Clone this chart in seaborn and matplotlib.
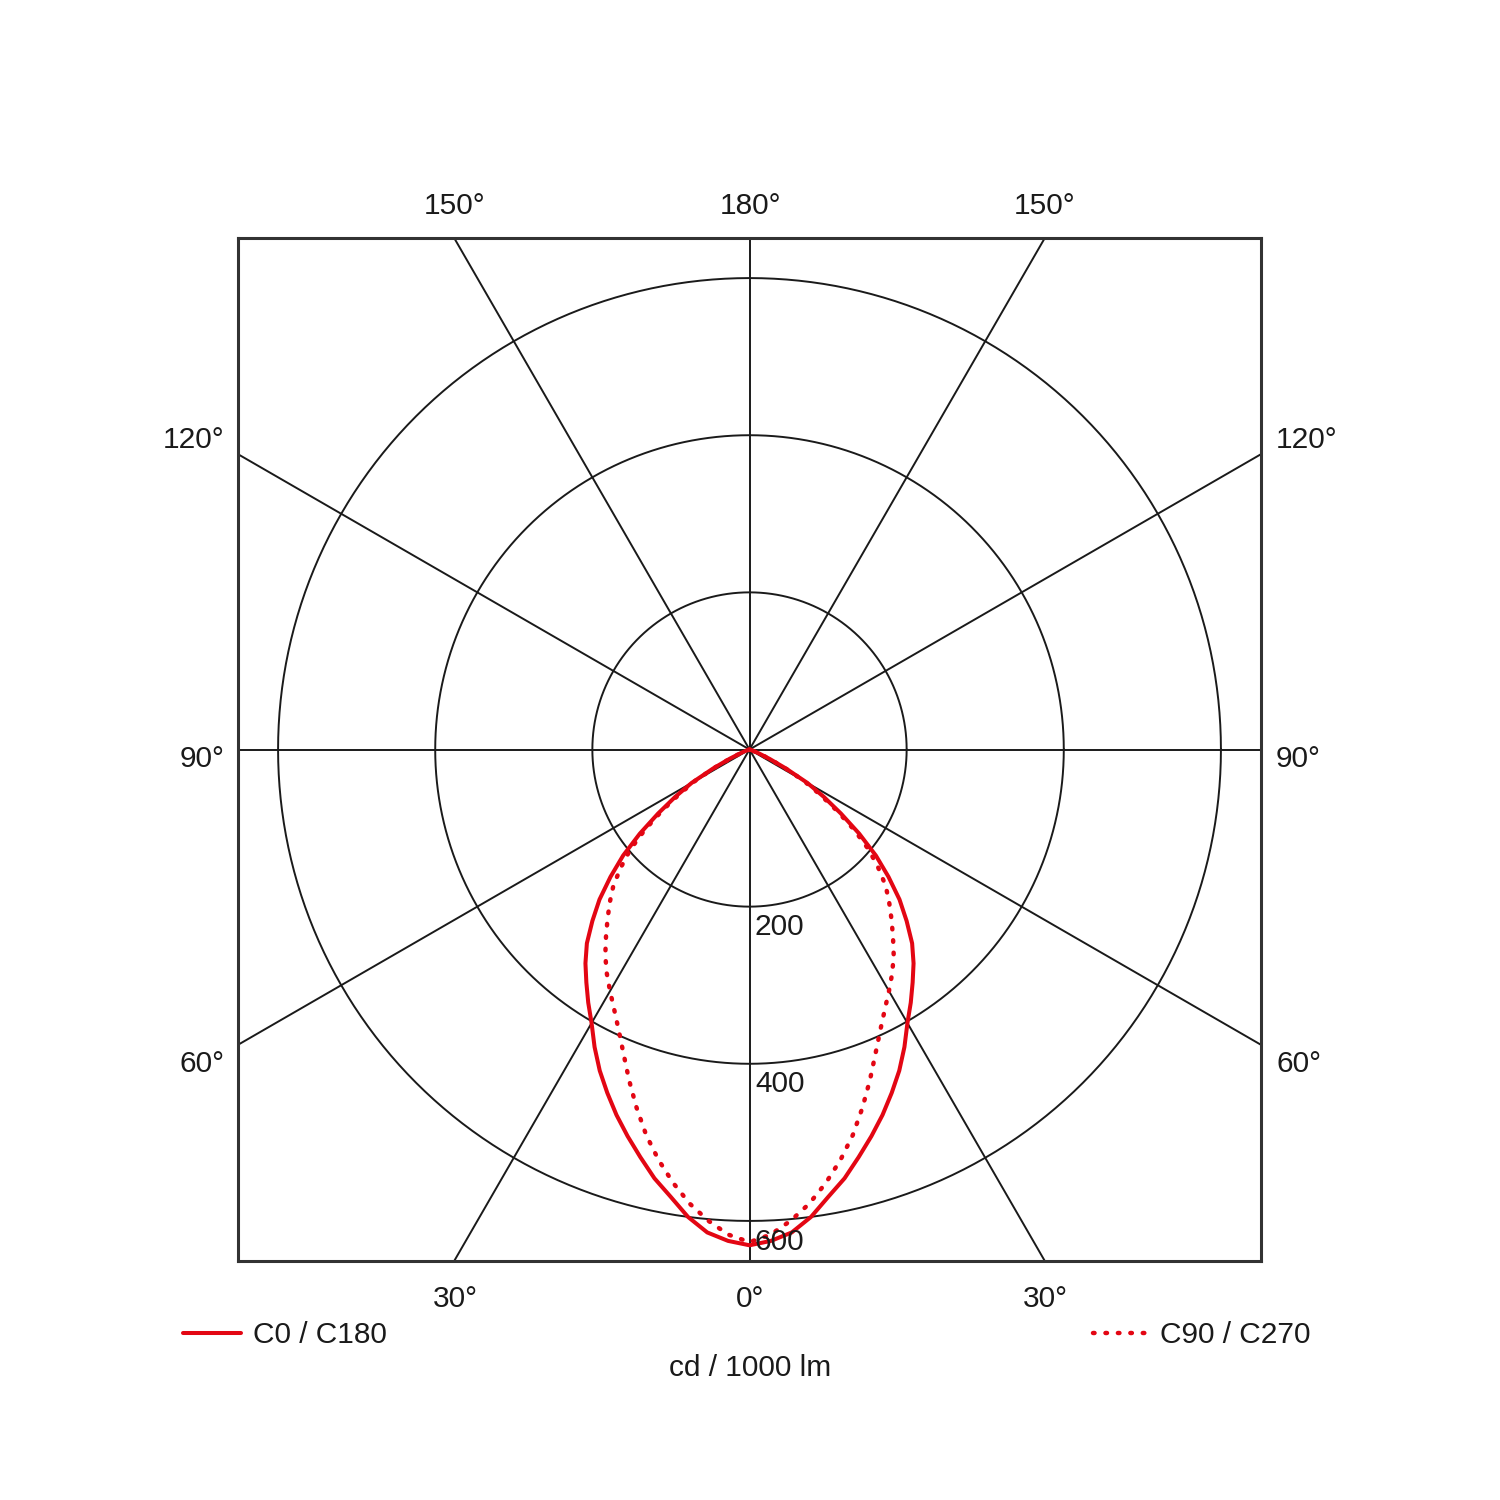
import numpy as np
import pandas as pd
import matplotlib.pyplot as plt
from matplotlib.lines import Line2D
import seaborn as sns

gamma = [0, 2.5, 5, 7.5, 10, 12.5, 15, 17.5, 20, 22.5, 25, 27.5, 30, 32.5, 35, 37.5,
         40, 42.5, 45, 47.5, 50, 52.5, 55, 57.5, 60, 62.5, 65, 67.5, 70, 72.5, 75,
         77.5, 80, 82.5, 85, 87.5, 90]
c0_c180 = [631, 626, 617, 600, 578, 559, 537, 516, 495, 473, 451, 427, 402, 382, 362, 343,
           322, 296, 270, 240, 210, 176, 142, 112, 85, 52, 28, 13, 6, 2, 1,
           0, 0, 0, 0, 0, 0]
c90_c270 = [627, 618, 602, 583, 560, 535, 508, 478, 448, 419, 394, 373, 355, 338, 320, 300,
            281, 263, 245, 222, 198, 168, 136, 106, 80, 50, 26, 11, 4, 1, 0,
            0, 0, 0, 0, 0, 0]

rings = [200, 400, 600]
spokes = [0, 30, 60, 90, 120, 150]
top_labels = ['150°', '180°', '150°']
side_labels = ['120°', '90°', '60°']
bottom_labels = ['30°', '0°', '30°']
legend_labels = ['C0 / C180', 'C90 / C270']
unit_label = 'cd / 1000 lm'

RED = '#e30613'
INK = '#1a1a1a'
LIM = 651
DOTS = (0, (0.35, 2.45))

sns.set_style('white')
plt.rcParams['font.family'] = ['Liberation Sans', 'DejaVu Sans']


def curva(valores):
    g = np.array(gamma, dtype=float)
    v = np.array(valores, dtype=float)
    ang = np.concatenate([-g[::-1], g[1:]])
    val = np.concatenate([v[::-1], v[1:]])
    t = np.radians(ang)
    return pd.DataFrame({'x': val * np.sin(t), 'y': -val * np.cos(t)})


fig = plt.figure(figsize=(15, 15), dpi=100)
ax = fig.add_axes([238 / 1500, 239 / 1500, 1023 / 1500, 1023 / 1500])

# rejilla polar
t = np.linspace(0, 2 * np.pi, 721)
for r in rings:
    ax.plot(r * np.cos(t), r * np.sin(t), color=INK, lw=1.4, zorder=1)
for a in spokes:
    s = np.radians(a)
    ax.plot([-1000 * np.sin(s), 1000 * np.sin(s)], [1000 * np.cos(s), -1000 * np.cos(s)],
            color=INK, lw=1.4, zorder=1)

# curvas
sns.lineplot(data=curva(c0_c180), x='x', y='y', sort=False, estimator=None,
             color=RED, lw=2.9, ax=ax, zorder=3)
sns.lineplot(data=curva(c90_c270), x='x', y='y', sort=False, estimator=None,
             color=RED, lw=3.2, ax=ax, zorder=3, linestyle=DOTS,
             dash_capstyle='round')

ax.set_xlim(-LIM, LIM)
ax.set_ylim(-LIM, LIM)
ax.set_aspect('equal')
ax.set_xticks([])
ax.set_yticks([])
ax.set_xlabel('')
ax.set_ylabel('')
for sp in ax.spines.values():
    sp.set_visible(True)
    sp.set_color('#333333')
    sp.set_linewidth(2.2)

# etiquetas de radio
fs = 21.5
for r, yb in zip(rings, [935, 1092, 1250]):
    fig.text(755 / 1500, 1 - yb / 1500, str(r), fontsize=fs, color=INK,
             ha='left', va='baseline', zorder=5)

# etiquetas de ángulo
for lab, xp in zip(top_labels, [455, 750, 1045]):
    fig.text(xp / 1500, 1 - 214 / 1500, lab, fontsize=fs, color=INK, ha='center', va='baseline')
for lab, xp in zip(bottom_labels, [455, 750, 1045]):
    fig.text(xp / 1500, 1 - 1307 / 1500, lab, fontsize=fs, color=INK, ha='center', va='baseline')
for lab, yb in zip(side_labels, [448, 767, 1072]):
    fig.text(224 / 1500, 1 - yb / 1500, lab, fontsize=fs, color=INK, ha='right', va='baseline')
    fig.text(1276 / 1500, 1 - yb / 1500, lab, fontsize=fs, color=INK, ha='left', va='baseline')

# leyenda
fig.add_artist(Line2D([183 / 1500, 241 / 1500], [1 - 1333 / 1500] * 2, transform=fig.transFigure,
                      color=RED, lw=2.9, solid_capstyle='round'))
fig.text(253 / 1500, 1 - 1343 / 1500, legend_labels[0], fontsize=fs, color=INK, ha='left', va='baseline')
fig.add_artist(Line2D([1093 / 1500, 1148 / 1500], [1 - 1333 / 1500] * 2, transform=fig.transFigure,
                      color=RED, lw=3.2, linestyle=DOTS, dash_capstyle='round'))
fig.text(1160 / 1500, 1 - 1343 / 1500, legend_labels[1], fontsize=fs, color=INK, ha='left', va='baseline')
fig.text(750 / 1500, 1 - 1376 / 1500, unit_label, fontsize=fs, color=INK, ha='center', va='baseline')

fig.savefig('out.png', dpi=100, facecolor='white')
